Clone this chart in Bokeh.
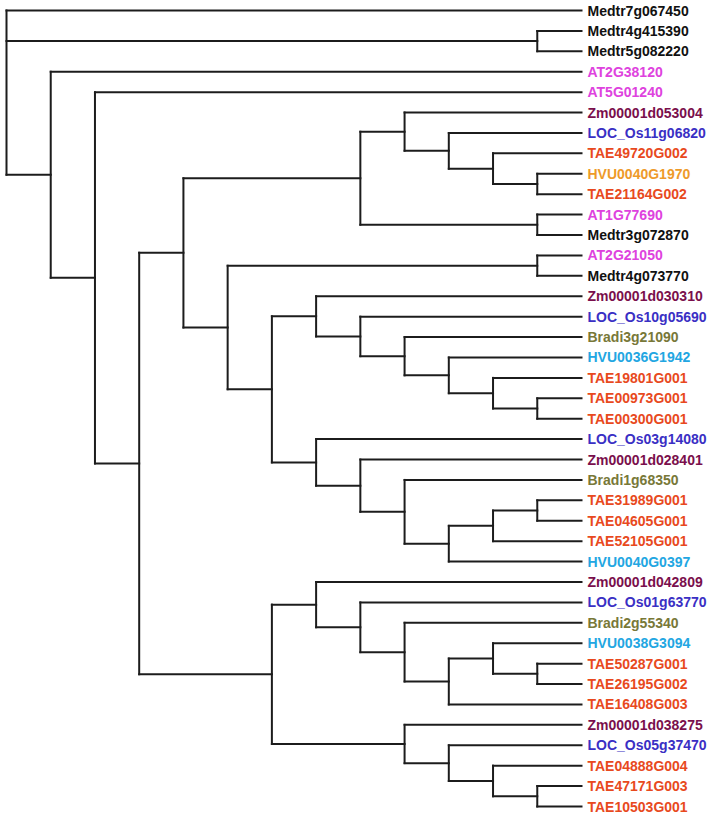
from bokeh.plotting import figure
from bokeh.models import Range1d, ColumnDataSource
from bokeh.embed import file_html
from bokeh.resources import INLINE
from bokeh.core.properties import value

# ---- data ----
leaf_labels = [
    "Medtr7g067450", "Medtr4g415390", "Medtr5g082220", "AT2G38120", "AT5G01240",
    "Zm00001d053004", "LOC_Os11g06820", "TAE49720G002", "HVU0040G1970", "TAE21164G002",
    "AT1G77690", "Medtr3g072870", "AT2G21050", "Medtr4g073770", "Zm00001d030310",
    "LOC_Os10g05690", "Bradi3g21090", "HVU0036G1942", "TAE19801G001", "TAE00973G001",
    "TAE00300G001", "LOC_Os03g14080", "Zm00001d028401", "Bradi1g68350", "TAE31989G001",
    "TAE04605G001", "TAE52105G001", "HVU0040G0397", "Zm00001d042809", "LOC_Os01g63770",
    "Bradi2g55340", "HVU0038G3094", "TAE50287G001", "TAE26195G002", "TAE16408G003",
    "Zm00001d038275", "LOC_Os05g37470", "TAE04888G004", "TAE47171G003", "TAE10503G001",
]
leaf_groups = [
    "Mt", "Mt", "Mt", "At", "At",
    "Zm", "Os", "Ta", "HvO", "Ta",
    "At", "Mt", "At", "Mt", "Zm",
    "Os", "Bd", "Hv", "Ta", "Ta",
    "Ta", "Os", "Zm", "Bd", "Ta",
    "Ta", "Ta", "Hv", "Zm", "Os",
    "Bd", "Hv", "Ta", "Ta", "Ta",
    "Zm", "Os", "Ta", "Ta", "Ta",
]
group_colors = {
    "Mt": "#111111", "At": "#de42de", "Zm": "#7a0f4c", "Os": "#3a2fc4",
    "Ta": "#e8491d", "HvO": "#ee9a2a", "Hv": "#22a6e2", "Bd": "#787838",
}
leaf_level = 13
# internal nodes: name, depth level, children (top to bottom)
node_table = [
    ("R", 0, ["Medtr7g067450", "c1", "A"]),
    ("A", 1, ["AT2G38120", "B"]),
    ("B", 2, ["AT5G01240", "C"]),
    ("C", 3, ["D", "V"]),
    ("D", 4, ["E", "I"]),
    ("E", 8, ["F", "c3"]),
    ("F", 9, ["Zm00001d053004", "G"]),
    ("G", 10, ["LOC_Os11g06820", "H"]),
    ("H", 11, ["TAE49720G002", "c2"]),
    ("I", 5, ["c4", "J"]),
    ("J", 6, ["K", "P"]),
    ("K", 7, ["Zm00001d030310", "L"]),
    ("L", 8, ["LOC_Os10g05690", "M"]),
    ("M", 9, ["Bradi3g21090", "N"]),
    ("N", 10, ["HVU0036G1942", "O"]),
    ("O", 11, ["TAE19801G001", "c5"]),
    ("P", 7, ["LOC_Os03g14080", "Q"]),
    ("Q", 8, ["Zm00001d028401", "S"]),
    ("S", 9, ["Bradi1g68350", "T"]),
    ("T", 10, ["U", "HVU0040G0397"]),
    ("U", 11, ["c6", "TAE52105G001"]),
    ("V", 6, ["W", "AB"]),
    ("W", 7, ["Zm00001d042809", "X"]),
    ("X", 8, ["LOC_Os01g63770", "Y"]),
    ("Y", 9, ["Bradi2g55340", "Z"]),
    ("Z", 10, ["AA", "TAE16408G003"]),
    ("AA", 11, ["HVU0038G3094", "c7"]),
    ("AB", 9, ["Zm00001d038275", "AC"]),
    ("AC", 10, ["LOC_Os05g37470", "c9"]),
    ("c9", 11, ["TAE04888G004", "c8"]),
    ("c1", 12, ["Medtr4g415390", "Medtr5g082220"]),
    ("c2", 12, ["HVU0040G1970", "TAE21164G002"]),
    ("c3", 12, ["AT1G77690", "Medtr3g072870"]),
    ("c4", 12, ["AT2G21050", "Medtr4g073770"]),
    ("c5", 12, ["TAE00973G001", "TAE00300G001"]),
    ("c6", 12, ["TAE31989G001", "TAE04605G001"]),
    ("c7", 12, ["TAE50287G001", "TAE26195G002"]),
    ("c8", 12, ["TAE47171G003", "TAE10503G001"]),
]

# ---- layout ----
nodes = {n: (lvl, ch) for n, lvl, ch in node_table}
pos = {lab: (leaf_level, i) for i, lab in enumerate(leaf_labels)}


def place(name):
    if name in pos:
        return pos[name]
    lvl, ch = nodes[name]
    ys = [place(c)[1] for c in ch]
    pos[name] = (lvl, (ys[0] + ys[-1]) / 2.0)
    return pos[name]


place("R")

x0s, y0s, x1s, y1s = [], [], [], []
for n, lvl, ch in node_table:
    ys = [pos[c][1] for c in ch]
    x0s.append(lvl); y0s.append(min(ys)); x1s.append(lvl); y1s.append(max(ys))
    for c in ch:
        cx, cy = pos[c]
        x0s.append(lvl); y0s.append(cy); x1s.append(cx); y1s.append(cy)

W, H = 710, 816
px_per_level = (581.0 - 6.0) / 13.0
x_start = -6.0 / px_per_level
x_end = x_start + W / px_per_level
px_per_leaf = (806.0 - 10.0) / 39.0
y_top = -10.0 / px_per_leaf
y_bottom = y_top + H / px_per_leaf

p = figure(width=W, height=H, output_backend="svg", toolbar_location=None,
           x_range=Range1d(x_start, x_end), y_range=Range1d(y_bottom, y_top),
           min_border=0, outline_line_color=None)
p.axis.visible = False
p.grid.visible = False
p.background_fill_color = "white"

p.segment(x0=x0s, y0=y0s, x1=x1s, y1=y1s, line_color="#1c1c1c", line_width=2,
          line_cap="square")

src = ColumnDataSource(dict(
    x=[leaf_level] * len(leaf_labels),
    y=list(range(len(leaf_labels))),
    text=leaf_labels,
    color=[group_colors[g] for g in leaf_groups],
))
p.text(x="x", y="y", text="text", source=src, text_color="color",
       text_font=value("Liberation Sans"), text_font_style="bold",
       text_font_size="14px", text_baseline="middle", text_align="left",
       x_offset=6)

open("out.html", "w").write(file_html(p, INLINE))
